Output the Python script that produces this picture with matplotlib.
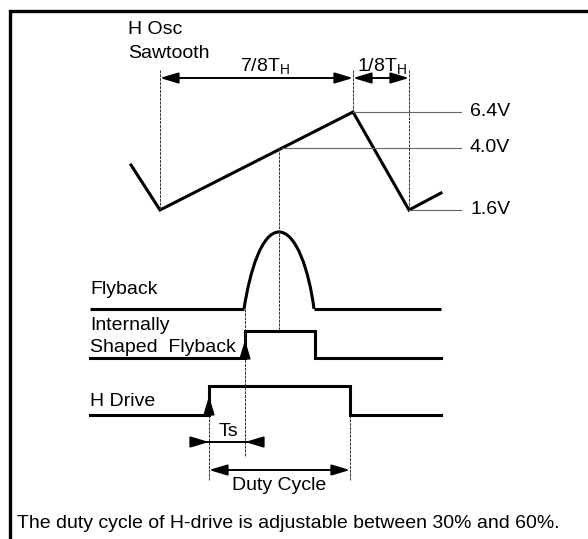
import numpy as np
import matplotlib
matplotlib.use("Agg")
import matplotlib.pyplot as plt
from matplotlib.path import Path
from matplotlib.patches import PathPatch

plt.rcParams['font.family'] = ['Liberation Sans', 'DejaVu Sans']
plt.rcParams['mathtext.default'] = 'regular'

# waveform shapes, in drawing units (x = time, y grows downward)
saw_t = [131, 160, 353, 409, 441]
saw_v = [165, 210, 112, 210, 193]

level_labels = ["6.4V", "4.0V", "1.6V"]
level_y = [112, 148, 210]
level_start = [353, 282, 409]
level_end = 461

# flyback pulse: flat, hump (bezier control points), flat
fly_base = 309
fly_left = [90, 244]
fly_right = [314, 441]
hump_t = [244, 250, 262, 279, 296, 309, 314]
hump_v = [309, 270, 232, 232, 232, 270, 309]

shaped_t = [90, 245, 245, 315, 315, 441]
shaped_v = [358, 358, 331, 331, 358, 358]

hdrive_t = [90, 209, 209, 350, 350, 441]
hdrive_v = [415, 415, 386, 386, 415, 415]

bottom_note = "The duty cycle of H-drive is adjustable between 30% and 60%."

fig = plt.figure(figsize=(5.88, 5.39), dpi=100)
ax = fig.add_axes([0, 0, 1, 1])
ax.set_xlim(0, 588)
ax.set_ylim(539, 0)
ax.axis('off')

lw = 2.2
fs = 14
thin = dict(color='#333333', lw=0.7, linestyle=(0, (3, 1)))

# frame (only top and left visible)
ax.plot([10, 10, 588], [539, 11, 11], color='black', lw=2.4, solid_joinstyle='miter')

# sawtooth
ax.plot(saw_t, saw_v, color='black', lw=lw, solid_joinstyle='miter')
for lab, y, x0 in zip(level_labels, level_y, level_start):
    ax.plot([x0, level_end], [y, y], color='#666666', lw=0.8)
    ax.text(470, y, lab, fontsize=fs, va='center', ha='left')

# period markers
for x, y1 in [(saw_t[1], saw_v[1]), (saw_t[2], saw_v[2]), (saw_t[3], saw_v[3])]:
    ax.plot([x, x], [70, y1], **thin)

def arrow(x0, y0, x1, y1, style='-|>'):
    ax.annotate('', xy=(x1, y1), xytext=(x0, y0),
                arrowprops=dict(arrowstyle=style + ',head_length=1.1,head_width=0.33',
                                color='black', lw=1.4, shrinkA=0, shrinkB=0,
                                mutation_scale=10))

arrow(saw_t[1], 78, saw_t[2], 78, '<|-|>')
arrow(saw_t[2], 78, saw_t[3], 78, '<|-|>')
ax.text(240, 66, r'7/8T$_H$', fontsize=fs, va='center', ha='left')
ax.text(357, 66, r'1/8T$_H$', fontsize=fs, va='center', ha='left')
ax.text(128, 30, "H Osc", fontsize=fs, va='center', ha='left')
ax.text(128, 53, "Sawtooth", fontsize=fs, va='center', ha='left')

# 4.0V crossing marker
ax.plot([279, 279], [148, 331], **thin)

# flyback
ax.plot(fly_left, [fly_base, fly_base], color='black', lw=lw, solid_capstyle='butt')
ax.plot(fly_right, [fly_base, fly_base], color='black', lw=lw, solid_capstyle='butt')
codes = [Path.MOVETO, Path.CURVE4, Path.CURVE4, Path.CURVE4, Path.CURVE4, Path.CURVE4, Path.CURVE4]
hump = Path(list(zip(hump_t, hump_v)), codes)
ax.add_patch(PathPatch(hump, facecolor='none', edgecolor='black', lw=lw))
ax.text(90, 290, "Flyback", fontsize=fs, va='center', ha='left')

# internally shaped flyback
ax.plot(shaped_t, shaped_v, color='black', lw=lw, solid_joinstyle='miter')
ax.text(90, 325, "Internally", fontsize=fs, va='center', ha='left')
ax.text(90, 348, "Shaped  Flyback", fontsize=fs, va='center', ha='left')
arrow(shaped_t[1], 354, shaped_t[1], 340)

# H drive
ax.plot(hdrive_t, hdrive_v, color='black', lw=lw, solid_joinstyle='miter')
ax.text(90, 402, "H Drive", fontsize=fs, va='center', ha='left')
arrow(hdrive_t[1], 410, hdrive_t[1], 396)

# timing markers
ax.plot([shaped_t[1], shaped_t[1]], [fly_base, 457], **thin)
ax.plot([hdrive_t[1], hdrive_t[1]], [hdrive_v[0], 480], **thin)
ax.plot([hdrive_t[3], hdrive_t[3]], [hdrive_v[0], 480], **thin)

# Ts
ax.plot([194, 259], [442, 442], color='black', lw=1.4)
arrow(194, 442, hdrive_t[1], 442)
arrow(259, 442, shaped_t[1], 442)
ax.text(228, 432, "Ts", fontsize=fs, va='center', ha='center')

# duty cycle
arrow(hdrive_t[1], 470, hdrive_t[3], 470, '<|-|>')
ax.text(279, 486, "Duty Cycle", fontsize=fs, va='center', ha='center')

ax.text(17, 523, bottom_note, fontsize=fs, va='center', ha='left')

fig.savefig("out.png", dpi=100)
